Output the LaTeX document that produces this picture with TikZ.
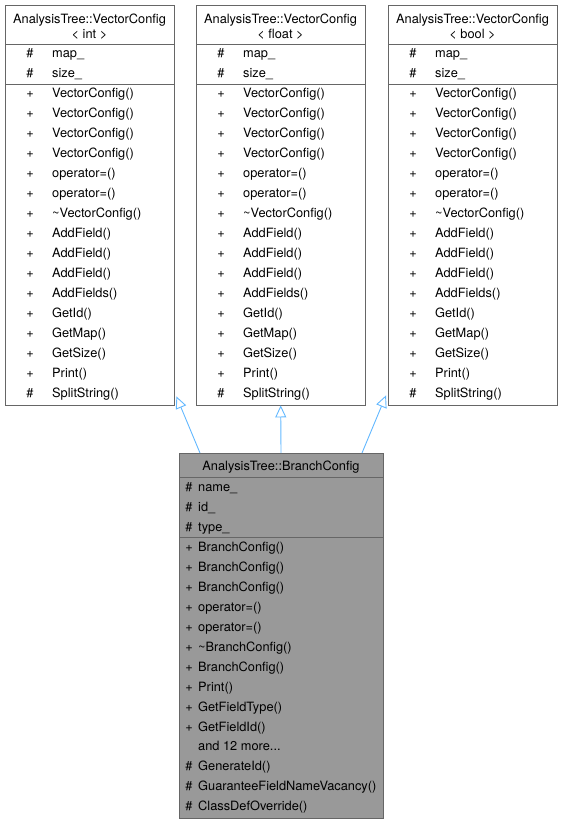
\documentclass[tikz,border=0pt]{standalone}
\usepackage{fontspec}
\setmainfont{TeX Gyre Heros}
\usetikzlibrary{arrows.meta,positioning,calc}
\definecolor{edgegray}{HTML}{666666}
\definecolor{selgray}{HTML}{999999}
\definecolor{inherit}{HTML}{63B8FF}
\newcommand\moremembers{and 12 more...}
\tikzset{cls/.style={draw=edgegray,anchor=north west,inner sep=0pt,minimum width=169pt},
  member/.style={anchor=west,inner sep=0pt,text height=9.2pt,text depth=2.6pt},
  sym/.style={inner sep=0pt,text height=9.2pt,text depth=2.6pt},
  inh/.style={-{Triangle[open,length=12pt,width=11pt]},draw=inherit,line width=0.9pt}}

\begin{document}
\begin{tikzpicture}[x=1pt,y=-1pt,font=\fontsize{12.8}{15}\selectfont]
\useasboundingbox (0,0) rectangle (563,824);
% base classes
\foreach \bx/\tp/\nm in {5/int/vi,196/float/vf,388/bool/vb}{
  \node[cls,fill=white,minimum height=400pt] (\nm) at (\bx,5) {};
  \node[align=center] at (\bx+84.5,26.5) {AnalysisTree::VectorConfig\\< \tp\ >};
  \draw[edgegray] ($(\nm.north west)+(0,39)$) -- ($(\nm.north east)+(0,39)$);
  \draw[edgegray] ($(\nm.north west)+(0,79)$) -- ($(\nm.north east)+(0,79)$);
  \foreach \s/\m [count=\i] in {\#/map\_,\#/size\_}
    {\node[sym] at (\bx+25,34.5+20*\i) {\s};\node[member] at (\bx+47,34.5+20*\i) {\m};}
  \foreach \s/\m [count=\i] in {+/VectorConfig(),+/VectorConfig(),+/VectorConfig(),+/VectorConfig(),
      +/operator=(),+/operator=(),+/\textasciitilde VectorConfig(),+/AddField(),+/AddField(),+/AddField(),
      +/AddFields(),+/GetId(),+/GetMap(),+/GetSize(),+/Print(),\#/SplitString()}
    {\node[sym] at (\bx+25,74.5+20*\i) {\s};\node[member] at (\bx+47,74.5+20*\i) {\m};}
}
% derived class
\node[cls,fill=selgray,minimum width=204pt,minimum height=365pt] (bc) at (179,453) {};
\node at (281,467) {AnalysisTree::BranchConfig};
\draw[edgegray] ($(bc.north west)+(0,24)$) -- ($(bc.north east)+(0,24)$);
\draw[edgegray] ($(bc.north west)+(0,84)$) -- ($(bc.north east)+(0,84)$);
\foreach \s/\m [count=\i] in {\#/name\_,\#/id\_,\#/type\_}
  {\node[sym] at (189,468.5+20*\i) {\s};\node[member] at (198,468.5+20*\i) {\m};}
\foreach \s/\m [count=\i] in {+/BranchConfig(),+/BranchConfig(),+/BranchConfig(),+/operator=(),+/operator=(),
    +/\textasciitilde BranchConfig(),+/BranchConfig(),+/Print(),+/GetFieldType(),+/GetFieldId(),
    {}/\moremembers,\#/GenerateId(),\#/GuaranteeFieldNameVacancy(),\#/ClassDefOverride()}
  {\node[sym] at (189,528.5+19.92*\i) {\s};\node[member] at (198,528.5+19.92*\i) {\m};}
% inheritance
\draw[inh] ([xshift=21pt]bc.north west) -- ([shift={(2pt,9pt)}]vi.south east);
\draw[inh] ([xshift=102pt]bc.north west) -- (vf.south);
\draw[inh] ([xshift=183pt]bc.north west) -- ([shift={(-2pt,10pt)}]vb.south west);
\end{tikzpicture}
\end{document}
